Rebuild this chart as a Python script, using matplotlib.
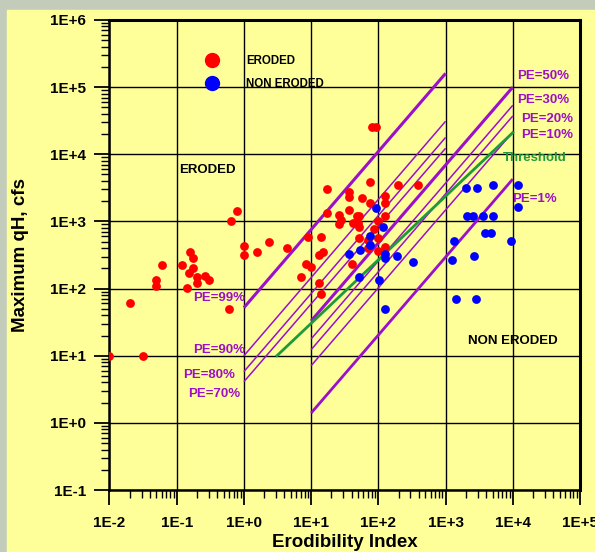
import numpy as np
import matplotlib
matplotlib.use("Agg")
import matplotlib.pyplot as plt
from matplotlib.ticker import LogLocator, FuncFormatter, NullFormatter
from matplotlib.lines import Line2D
from matplotlib.patches import Rectangle

plt.rcParams['font.family'] = ['Liberation Sans', 'DejaVu Sans']
plt.rcParams['font.weight'] = 'bold'

# ---------------- DATA ----------------
eroded_x = [0.78, 0.64, 1.0, 1.0, 0.158, 0.173, 0.060, 0.12, 0.173, 0.151,
            0.20, 0.267, 0.303, 0.20, 0.050, 0.050, 0.141, 0.020, 0.60, 0.01,
            0.032, 1.58, 2.39, 4.33, 9.1, 13.9, 13.2, 14.8, 8.3, 10,
            7.0, 13, 13.9, 17.3, 36.6, 36.6, 56.6, 75.2, 75.2, 36.6,
            17.3, 26, 27.6, 26, 47.7, 52, 50.4, 42.5, 52, 199,
            394, 126, 126, 126, 100, 86.3, 52, 100, 70.3, 70.3,
            126, 100, 40.9, 79.8, 90.8]
eroded_y = [1450, 1000, 433, 315, 349, 290, 223, 223, 203, 173,
            151, 155, 132, 120, 132, 110, 102, 61, 49, 10,
            10, 355, 502, 408, 596, 596, 315, 349, 233, 213,
            148, 123, 83, 3030, 2790, 2300, 2225, 3800, 1893, 1504,
            1330, 1254, 1057, 920, 1211, 1199, 963, 963, 822, 3510,
            3510, 2410, 1893, 1211, 1021, 767, 575, 575, 532, 400,
            423, 368, 233, 25400, 25400]

non_eroded_x = [90.8, 119, 75.2, 75.2, 53.4, 36.9, 126, 126, 192, 325,
                52, 102, 126, 2000, 2911, 5040, 11860, 11860, 2110, 2594,
                3654, 5143, 3873, 4755, 1352, 9333, 1262, 2655, 1409, 2813]
non_eroded_y = [1611, 839, 617, 448, 377, 326, 326, 284, 307, 252,
                148, 135, 50, 3135, 3135, 3510, 3510, 1667, 1199, 1199,
                1199, 1199, 670, 670, 514, 514, 268, 307, 69.5, 69.5]

pe_labels = ["PE=99%", "PE=90%", "PE=80%", "PE=70%",
             "PE=50%", "PE=30%", "PE=20%", "PE=10%", "PE=1%"]
pe_x0 = [1, 1, 1, 1, 10, 10, 10, 10, 10]
pe_x1 = [1e3, 1e3, 1e3, 1e3, 1e4, 1e4, 1e4, 1e4, 1e4]
pe_y0 = [52, 10, 5.8, 4.1, 33, 17.8, 12.3, 7.1, 1.4]
pe_y1 = [1.6e5, 3.1e4, 1.78e4, 1.23e4, 1.0e5, 5.37e4, 3.72e4, 2.14e4, 4.27e3]

threshold_x = [3.1, 1e4]
threshold_y = [10, 2.1e4]

# ---------------- STYLE ----------------
PURPLE = "#9B10C8"
GREEN = "#1F9A3A"
YELLOW = "#FFFF99"

pe_width = [2.2, 1.1, 1.1, 1.1, 2.2, 1.1, 1.1, 1.1, 2.0]
# label anchor (left, centre) in data units
pe_text_x = [0.177, 0.177, 0.125, 0.149, 11480, 11480, 13300, 13300, 9660]
pe_text_y = [73.5, 12.2, 5.1, 2.7, 1.44e5, 6.34e4, 3.35e4, 1.95e4, 2150]

# ---------------- PLOT ----------------
fig = plt.figure(figsize=(5.95, 5.52), dpi=100, facecolor="#c3cbbb")
fig.patches.append(Rectangle((7 / 595, 0), 1, 1 - 10 / 552,
                             transform=fig.transFigure, color=YELLOW, zorder=-10))

ax = fig.add_axes([0.184, 0.1123, 0.7908, 0.8515])
ax.set_facecolor(YELLOW)
ax.set_xscale("log")
ax.set_yscale("log")
ax.set_xlim(1e-2, 1e5)
ax.set_ylim(1e-1, 1e6)

ax.grid(True, which="major", color="black", lw=1.0, zorder=1)
ax.set_axisbelow(True)

for x0, x1, y0, y1, lw in zip(pe_x0, pe_x1, pe_y0, pe_y1, pe_width):
    ax.plot([x0, x1], [y0, y1], color=PURPLE, lw=lw, zorder=3,
            solid_capstyle="butt")
ax.plot(threshold_x, threshold_y, color=GREEN, lw=2.0, zorder=3)

ax.scatter(eroded_x, eroded_y, s=40, color="#FF0000", zorder=4, linewidths=0)
ax.scatter(non_eroded_x, non_eroded_y, s=40, color="#0000FF", zorder=4,
           linewidths=0)

for lab, tx, ty in zip(pe_labels, pe_text_x, pe_text_y):
    ax.text(tx, ty, lab, color=PURPLE, fontsize=9.5, fontweight="bold",
            ha="left", va="center", zorder=5)
ax.text(7000, 8800, "Threshold", color=GREEN, fontsize=9.5,
        fontweight="bold", ha="left", va="center", zorder=5)
ax.text(0.108, 5870, "ERODED", color="black", fontsize=9.5,
        fontweight="bold", ha="left", va="center")
ax.text(2140, 16.6, "NON ERODED", color="black", fontsize=9.5,
        fontweight="bold", ha="left", va="center")

handles = [
    Line2D([], [], ls="none", marker="o", ms=10, color="#FF0000"),
    Line2D([], [], ls="none", marker="o", ms=10, color="#0000FF"),
]
ax.legend(handles, ["ERODED", "NON ERODED"], loc="upper left",
          bbox_to_anchor=(0.193, 0.925), frameon=False, borderpad=0,
          borderaxespad=0, handlelength=2.0, handletextpad=2.0,
          labelspacing=0.95, prop={"size": 8.3, "weight": "bold"})

# ticks
fmt = FuncFormatter(lambda v, p: "1E%+d" % int(round(np.log10(v))))
for axis in (ax.xaxis, ax.yaxis):
    axis.set_major_locator(LogLocator(base=10, numticks=20))
    axis.set_minor_locator(LogLocator(base=10, subs=np.arange(2, 10), numticks=20))
    axis.set_major_formatter(fmt)
    axis.set_minor_formatter(NullFormatter())

ax.tick_params(which="major", direction="out", length=11, width=1.3,
               labelsize=11, pad=6, color="black")
ax.tick_params(which="minor", direction="out", length=6, width=1.0,
               color="black")
ax.tick_params(axis="x", which="major", pad=8)

for side in ("left", "bottom"):
    ax.spines[side].set_linewidth(1.8)
for side in ("top", "right"):
    ax.spines[side].set_linewidth(2.2)

ax.set_xlabel("Erodibility Index", fontsize=13.5, fontweight="bold")
ax.set_ylabel("Maximum qH, cfs", fontsize=13.5, fontweight="bold")
ax.xaxis.set_label_coords(0.5, -0.093)
ax.yaxis.set_label_coords(-0.17, 0.5)

fig.savefig("out.png", dpi=100, facecolor=fig.get_facecolor())
